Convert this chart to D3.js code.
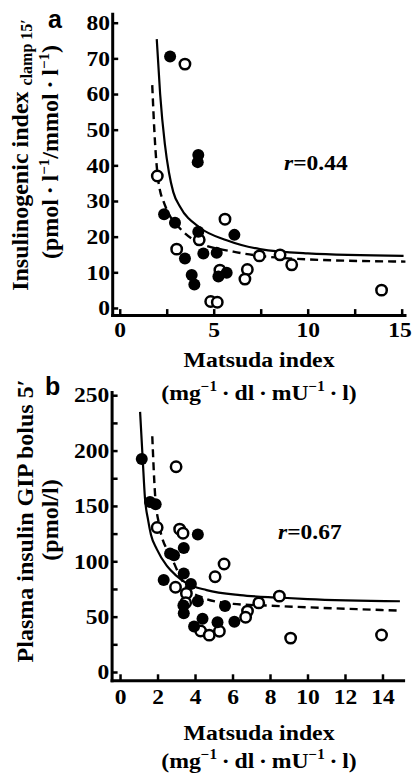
<!DOCTYPE html>
<html>
<head>
<meta charset="utf-8">
<script src="https://cdn.jsdelivr.net/npm/d3@7"></script>
<style>
  body { margin: 0; background: #fff; }
  svg { display: block; }
  text { font-family: 'Liberation Serif', 'Times New Roman', serif; font-weight: bold; fill: #000; }
</style>
</head>
<body>
<div id="chart"></div>
<script>
// panel a: insulinogenic index vs Matsuda index
const aFilledX = [2.68, 4.18, 4.15, 2.36, 2.94, 4.18, 6.10, 3.47, 4.45, 5.16, 3.83, 3.97, 5.25, 5.69]
const aFilledY = [70.5, 42.9, 40.9, 26.3, 23.9, 21.4, 20.5, 13.9, 15.3, 15.5, 9.25, 6.6, 8.8, 9.9]
const aOpenX = [3.47, 2.0, 4.23, 5.60, 3.03, 7.43, 8.53, 9.15, 5.33, 6.79, 6.66, 4.84, 5.19, 13.93]
const aOpenY = [68.4, 37.0, 19.1, 24.9, 16.5, 14.6, 14.9, 12.1, 10.6, 10.8, 8.1, 1.8, 1.6, 5.0]
const aSolidX = [1.97, 2.15, 2.4, 2.62, 2.85, 3.21, 4.27, 5.69, 7.46, 10, 15.1]
const aSolidY = [75.4, 60, 46, 38, 32.5, 28.4, 22.5, 19.0, 16.5, 15.3, 14.6]
const aDashX = [1.73, 1.88, 2.0, 2.14, 2.32, 2.6, 3.21, 4.1, 6.04, 7.82, 10.1, 15.2]
const aDashY = [62.5, 46.2, 38, 33, 30, 26.5, 22.3, 18.6, 15.8, 14.4, 13.6, 13.0]
const aXTicks = [0, 2.5, 5, 7.5, 10, 12.5, 15]
const aXLabels = [0, 5, 10, 15]
const aYTicks = [0, 10, 20, 30, 40, 50, 60, 70, 80]

// panel b: plasma insulin vs Matsuda index
const bFilledX = [1.16, 1.6, 1.9, 4.15, 3.4, 2.67, 2.88, 3.4, 2.33, 3.78, 4.15, 3.38, 3.4, 5.6, 4.4, 3.95, 5.2, 6.1]
const bFilledY = [192.4, 153.6, 151.5, 124.3, 112, 107, 105.5, 89, 83, 79.5, 64, 60, 53, 59.7, 48, 41, 45, 45.4]
const bOpenX = [2.99, 1.98, 3.18, 3.36, 5.55, 5.07, 2.96, 3.54, 3.5, 7.4, 8.5, 6.8, 6.7, 4.3, 4.76, 5.3, 9.1, 13.95]
const bOpenY = [185.4, 130.5, 129, 125.3, 97.5, 86, 76.5, 71, 62.5, 62.4, 68.5, 55, 49.5, 37, 33.3, 36.8, 30.6, 33.4]
const bSolidX = [1.07, 1.21, 1.33, 1.5, 1.65, 1.96, 2.49, 3.0, 3.56, 4.62, 6.4, 8.53, 10, 14.93]
const bSolidY = [235, 192, 157, 137, 124, 111, 96, 87, 80, 74, 69.4, 67.2, 65.9, 63.9]
const bDashX = [1.72, 1.87, 2.1, 2.49, 2.67, 3.1, 3.56, 4.44, 6.04, 7.82, 9.92, 14.93]
const bDashY = [213, 160, 132, 111, 106, 90, 76, 67, 61.5, 60, 58.5, 55.4]
const bXTicks = [0, 2, 4, 6, 8, 10, 12, 14]
const bYTicks = [0, 25, 50, 75, 100, 125, 150, 175, 200, 225, 250]
const bYLabels = [0, 50, 100, 150, 200, 250]

const stretch = 1.12

const svg = d3.select('#chart')
    .append('svg')
        .attr('width', 412)
        .attr('height', 776)

const drawPanel = p => {
    const x = d3.scaleLinear().domain(p.xDomain).range(p.xRange)
    const y = d3.scaleLinear().domain(p.yDomain).range(p.yRange)
    const g = svg.append('g')

    const line = d3.line()
        .x(d => x(d[0]))
        .y(d => y(d[1]))
        .curve(d3.curveMonotoneX)

    g.append('path')
        .datum(d3.zip(p.solidX, p.solidY))
        .attr('d', line)
        .attr('fill', 'none')
        .attr('stroke', '#000')
        .attr('stroke-width', 2.2)

    g.append('path')
        .datum(d3.zip(p.dashX, p.dashY))
        .attr('d', line)
        .attr('fill', 'none')
        .attr('stroke', '#000')
        .attr('stroke-width', 2.4)
        .attr('stroke-dasharray', '8,5')

    const xAxis = d3.axisBottom(x)
        .tickValues(p.xTicks)
        .tickSize(-6)
        .tickSizeOuter(0)
        .tickPadding(p.xPad)
        .tickFormat(d => p.xLabels.includes(d) ? d : '')

    const yAxis = d3.axisLeft(y)
        .tickValues(p.yTicks)
        .tickSize(-6)
        .tickSizeOuter(0)
        .tickPadding(2)
        .tickFormat(d => p.yLabels.includes(d) ? d : '')

    const gx = g.append('g')
        .attr('transform', `translate(0, ${p.yRange[0]})`)
        .call(xAxis)
    const gy = g.append('g')
        .attr('transform', `translate(${p.xRange[0]}, 0)`)
        .call(yAxis)

    ;[gx, gy].forEach(ax => {
        ax.attr('font-size', 21).attr('font-family', null)
        ax.select('.domain').attr('stroke-width', 3).attr('stroke-linecap', 'square')
        ax.selectAll('.tick line').attr('stroke-width', 2.5)
        ax.selectAll('text').attr('transform', `scale(${stretch}, 1)`)
    })
    // the last label sits on the right edge, as in the original
    gx.selectAll('text').filter(d => d === 15).attr('dx', -2)

    g.selectAll('circle.open')
        .data(d3.zip(p.openX, p.openY))
        .enter()
        .append('circle')
            .attr('class', 'open')
            .attr('cx', d => x(d[0]))
            .attr('cy', d => y(d[1]))
            .attr('r', 5.2)
            .attr('fill', '#fff')
            .attr('stroke', '#000')
            .attr('stroke-width', 2.5)

    g.selectAll('circle.filled')
        .data(d3.zip(p.filledX, p.filledY))
        .enter()
        .append('circle')
            .attr('class', 'filled')
            .attr('cx', d => x(d[0]))
            .attr('cy', d => y(d[1]))
            .attr('r', 6)
            .attr('fill', '#000')

    // r value
    const r = svg.append('text')
        .attr('transform', `translate(${p.rPos[0]}, ${p.rPos[1]}) scale(${stretch}, 1)`)
        .attr('font-size', 21)
    r.append('tspan').attr('font-style', 'italic').text('r')
    r.append('tspan').text(p.rText)

    // panel letter
    svg.append('text')
        .attr('x', p.letterPos[0])
        .attr('y', p.letterPos[1])
        .attr('font-size', 25)
        .style('font-family', "'Liberation Sans', Arial, sans-serif")
        .text(p.letter)

    // x title
    const xt = p.xTitle
    svg.append('text')
        .attr('transform', `translate(259, ${xt[0]}) scale(1.08, 1)`)
        .attr('text-anchor', 'middle')
        .attr('font-size', 22)
        .text('Matsuda index')
    const u = svg.append('text')
        .attr('transform', `translate(259, ${xt[1]}) scale(1.08, 1)`)
        .attr('text-anchor', 'middle')
        .attr('font-size', 22)
    u.append('tspan').text('(mg')
    u.append('tspan').attr('font-size', 14).attr('dy', -9).text('\u22121')
    u.append('tspan').attr('dy', 9).text('\u2009\u00b7\u2009dl\u2009\u00b7\u2009mU')
    u.append('tspan').attr('font-size', 14).attr('dy', -9).text('\u22121')
    u.append('tspan').attr('dy', 9).text('\u2009\u00b7\u2009l)')
}

const yTitle = (pos, build) => {
    const t = svg.append('text')
        .attr('transform', `translate(${pos[0]}, ${pos[1]}) rotate(-90)`)
        .attr('text-anchor', 'middle')
        .attr('font-size', 24)
    build(t)
}

drawPanel({
    xDomain: [-0.4, 15.15], xRange: [112.2, 404.5],
    yDomain: [-2, 82.5], yRange: [315.1, 13.8],
    filledX: aFilledX, filledY: aFilledY, openX: aOpenX, openY: aOpenY,
    solidX: aSolidX, solidY: aSolidY, dashX: aDashX, dashY: aDashY,
    xTicks: aXTicks, xLabels: aXLabels, yTicks: aYTicks, yLabels: aYTicks,
    xPad: 7, rPos: [284, 170], rText: '=0.44',
    letter: 'a', letterPos: [48, 28], xTitle: [367, 400]
})

drawPanel({
    xDomain: [-0.45, 15.1], xRange: [111.6, 403.1],
    yDomain: [-7.5, 253], yRange: [680.3, 391.9],
    filledX: bFilledX, filledY: bFilledY, openX: bOpenX, openY: bOpenY,
    solidX: bSolidX, solidY: bSolidY, dashX: bDashX, dashY: bDashY,
    xTicks: bXTicks, xLabels: bXTicks, yTicks: bYTicks, yLabels: bYLabels,
    xPad: 9, rPos: [278, 539], rText: '=0.67',
    letter: 'b', letterPos: [45, 395], xTitle: [740, 768]
})

yTitle([28, 155], t => {
    t.append('tspan').text('Insulinogenic index ')
    t.append('tspan').attr('font-size', 16).attr('dy', 4).text('clamp 15\u2032')
})
yTitle([58, 152], t => {
    t.append('tspan').text('(pmol\u2009\u00b7\u2009l')
    t.append('tspan').attr('font-size', 15).attr('dy', -9).text('\u22121')
    t.append('tspan').attr('dy', 9).text('/mmol\u2009\u00b7\u2009l')
    t.append('tspan').attr('font-size', 15).attr('dy', -9).text('\u22121')
    t.append('tspan').attr('dy', 9).text(')')
})
yTitle([33, 521], t => t.text('Plasma insulin GIP bolus 5\u2032'))
yTitle([58, 520], t => t.text('(pmol/l)'))
</script>
</body>
</html>
